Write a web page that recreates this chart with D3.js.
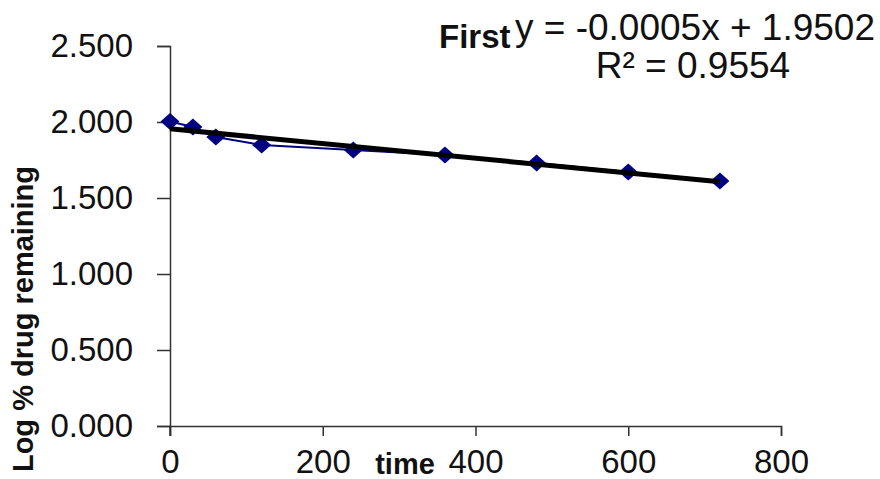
<!DOCTYPE html>
<html lang="en">
<head>
    <meta charset="utf-8">
    <title>First order</title>
    <script type="text/javascript" src="https://d3js.org/d3.v7.min.js"></script>
    <style>
        body { margin: 0; background: #fff; }
        text { font-family: "Liberation Sans", Arial, sans-serif; fill: #111; }
    </style>
</head>
<body>
    <div id="container"></div>
    <script type="text/javascript">
        var w = 880;
        var h = 479;

        // data
        var times = [0, 30, 60, 120, 240, 360, 480, 600, 720];
        var logRemaining = [2.003, 1.967, 1.901, 1.849, 1.816, 1.783, 1.730, 1.671, 1.612];
        var xTicks = [0, 200, 400, 600, 800];
        var yTicks = [0, 0.5, 1.0, 1.5, 2.0, 2.5];
        var eqText = "y = -0.0005x + 1.9502";
        var r2Text = "R² = 0.9554";

        const svg = d3.select("div#container")
            .append("svg")
            .attr("width", w)
            .attr("height", h)
            .style("background-color", "#fff");

        var x = d3.scaleLinear().domain([0, 800]).range([170, 781]);
        var y = d3.scaleLinear().domain([0, 2.5]).range([426, 46]);

        // axes
        var yAxis = svg.append("g")
            .attr("transform", "translate(170,0)")
            .call(d3.axisLeft(y).tickValues(yTicks).tickSize(13).tickPadding(24).tickFormat(d3.format(".3f")));
        var xAxis = svg.append("g")
            .attr("transform", "translate(0,426)")
            .call(d3.axisBottom(x).tickValues(xTicks).tickSize(10).tickPadding(14));

        [xAxis, yAxis].forEach(function (g) {
            g.select(".domain").attr("stroke", "#333").attr("stroke-width", 1.5);
            g.selectAll(".tick line").attr("stroke", "#333").attr("stroke-width", 1.5);
            g.selectAll(".tick text").attr("fill", "#111").style("font-size", "33px")
                .style("font-family", "'Liberation Sans', Arial, sans-serif");
        });
        // y axis runs a little below the x axis
        svg.append("line")
            .attr("x1", 170).attr("x2", 170)
            .attr("y1", y(0)).attr("y2", y(0) + 10)
            .attr("stroke", "#333").attr("stroke-width", 1.5);

        // least squares trendline from the data
        var mx = d3.mean(times), my = d3.mean(logRemaining);
        var sxy = d3.sum(times, (t, i) => (t - mx) * (logRemaining[i] - my));
        var sxx = d3.sum(times, (t) => (t - mx) * (t - mx));
        var slope = sxy / sxx;
        var intercept = my - slope * mx;

        var pts = times.map((t, i) => [t, logRemaining[i]]);

        // series line
        svg.append("path")
            .datum(pts)
            .attr("fill", "none")
            .attr("stroke", "#000080")
            .attr("stroke-width", 2)
            .attr("d", d3.line().x((d) => x(d[0])).y((d) => y(d[1])));

        // markers
        svg.selectAll("path.marker")
            .data(pts)
            .enter()
            .append("path")
            .attr("class", "marker")
            .attr("fill", "#000080")
            .attr("transform", (d) => "translate(" + x(d[0]) + "," + y(d[1]) + ")")
            .attr("d", "M0,-8.5L9.5,0L0,8.5L-9.5,0Z");

        // trendline
        svg.append("line")
            .attr("x1", x(0)).attr("y1", y(intercept))
            .attr("x2", x(720)).attr("y2", y(intercept + slope * 720))
            .attr("stroke", "#000")
            .attr("stroke-width", 5);

        // labels
        svg.append("text")
            .attr("transform", "translate(33,319) rotate(-90)")
            .attr("text-anchor", "middle")
            .style("font-size", "29px")
            .style("font-weight", "bold")
            .text("Log % drug remaining");

        svg.append("text")
            .attr("x", 405).attr("y", 474)
            .attr("text-anchor", "middle")
            .style("font-size", "29px")
            .style("font-weight", "bold")
            .text("time");

        svg.append("text")
            .attr("x", 439).attr("y", 48)
            .style("font-size", "33px")
            .style("font-weight", "bold")
            .text("First");

        svg.append("text")
            .attr("x", 875).attr("y", 40)
            .attr("text-anchor", "end")
            .style("font-size", "37px")
            .text(eqText);

        svg.append("text")
            .attr("x", 693).attr("y", 78)
            .attr("text-anchor", "middle")
            .style("font-size", "37px")
            .text(r2Text);
    </script>
</body>
</html>
